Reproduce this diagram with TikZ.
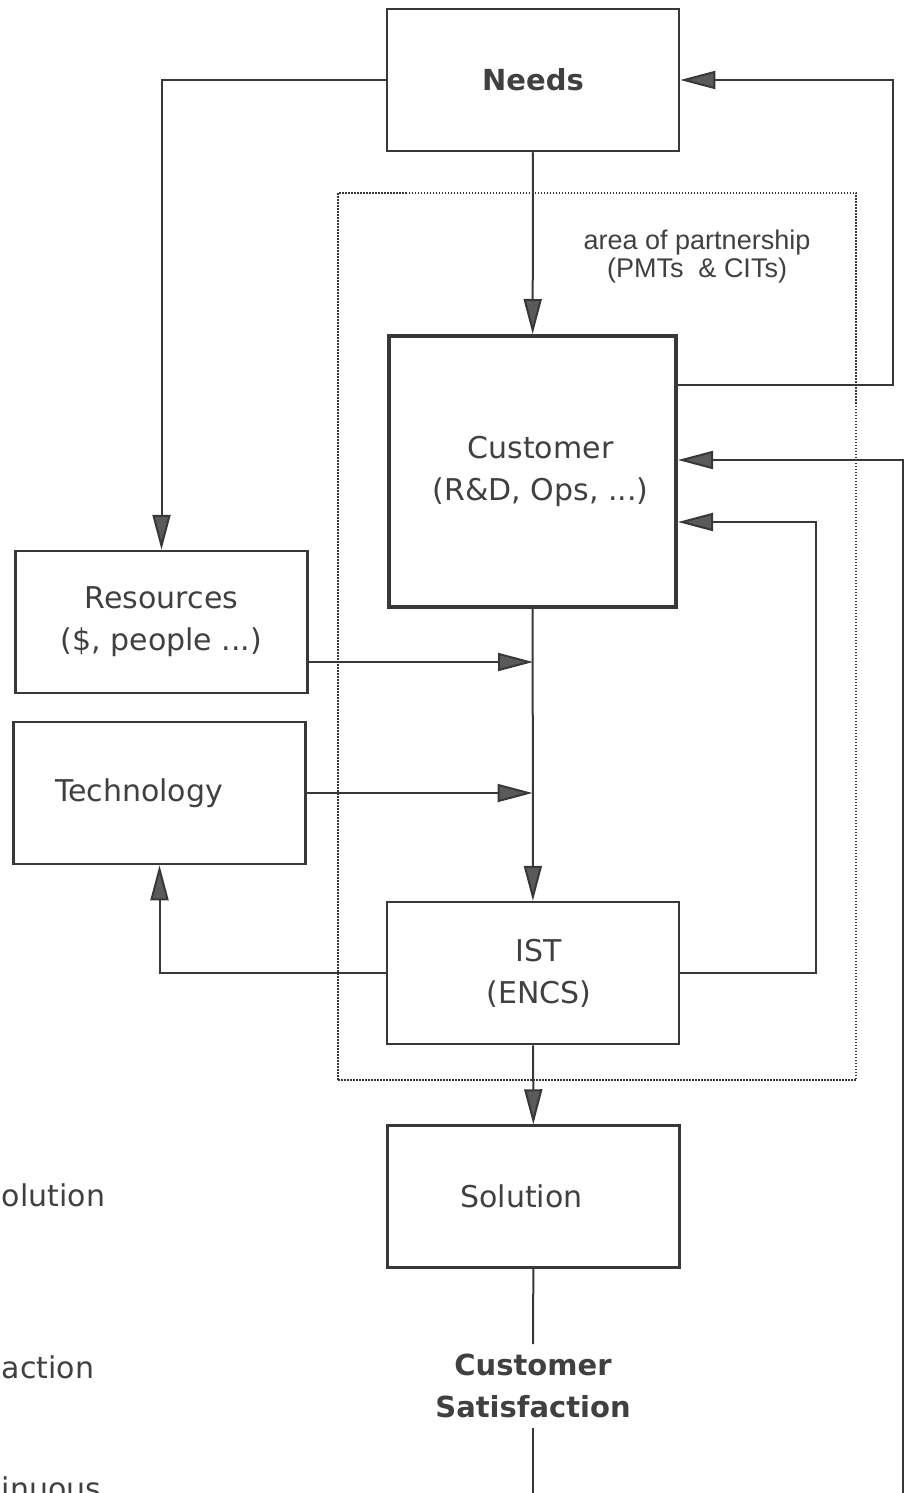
\documentclass[tikz,border=0pt]{standalone}
\usepackage{fontspec}
\setmainfont{DejaVu Sans}
\newfontfamily\helvfont{Liberation Sans}
\usetikzlibrary{positioning,arrows.meta}
\definecolor{ink}{HTML}{383838}
\definecolor{tipfill}{HTML}{5A5A5A}
\definecolor{txt}{HTML}{404040}

\begin{document}
\begin{tikzpicture}[x=0.5pt, y=-0.5pt, ink, line width=1pt, text=txt,
  font=\fontsize{15}{21}\selectfont,
  >={Triangle[length=17.5pt,width=9pt,fill=tipfill]},
  box/.style={draw, line width=1.25pt, align=center, inner sep=0pt,
    minimum width=146pt, minimum height=71pt},
  mainbox/.style={box, line width=2pt, minimum width=143.5pt, minimum height=135.5pt},
  partner/.style={draw, line width=0.75pt, dash pattern=on 0.75pt off 0.75pt,
    inner sep=0pt, minimum width=259pt, minimum height=443.5pt},
  note/.style={align=center, font=\helvfont\fontsize{13.5}{14}\selectfont},
  boldtxt/.style={align=center, font=\bfseries\fontsize{14.5}{21}\selectfont},
  cut/.style={inner sep=0pt}]

\useasboundingbox (0,0) rectangle (904,1493);

\node[box, boldtxt] (box_needs) at (533,80) {Needs};
\node[partner] (area) at (597,636.5) {};
\node[note] (area_lbl) at (697,257) {area of partnership\\(PMTs\ \ \& CITs)};
\node[mainbox] (box_cust) at (532.5,471.5) {\hspace*{8pt}Customer\\\hspace*{8pt}(R\&D, Ops, ...)};
\node[box] (box_res) at (161.5,622) {Resources\\(\$, people ...)};
\node[box, align=left, text width=104.5pt, inner xsep=20.5pt] (box_tech) at (159.5,793) {Technology};
\node[box] (box_ist) at (533,973) {\hspace*{6pt}IST\\\hspace*{6pt}(ENCS)};
\node[box] (box_sol) at (533.5,1196.5) {Solution\hspace*{12pt}};
\node[boldtxt, inner ysep=4.5pt] (sat) at (533,1386) {Customer\\Satisfaction};
\node[cut, anchor=west] (cut_sol) at (1,1195) {olution};
\node[cut, anchor=west] (cut_sat) at (1,1367) {action};
\node[cut, anchor=base west] (cut_cont) at (1,1499) {inuous};

\coordinate (join_res) at (533,662);
\coordinate (fb_needs) at (893,385);
\coordinate (in_right) at (903,460);
\coordinate (end_right) at (903,1493);
\coordinate (fb_ist) at (816,522);
\coordinate (end_sat) at (533,1493);

\path[->] (box_needs) edge (box_cust);
\path[->] (box_cust) edge (box_ist);
\path[->] (box_ist) edge (box_sol);
\path (box_sol) edge (sat);
\path (sat) edge (end_sat);
\path[->] (box_res.east |- join_res) edge (join_res);
\path[->] (box_tech) edge (box_tech -| box_cust);
\draw[->] (box_needs.west) -| (box_res);
\draw[->] (box_ist) -| (box_tech);
\draw[->] (box_ist) -| (fb_ist) -- (box_cust.east |- fb_ist);
\draw[->] (box_cust.east |- fb_needs) -- (fb_needs) |- (box_needs);
\draw[->] (end_right) -- (in_right) -- (box_cust.east |- in_right);

\end{tikzpicture}
\end{document}
